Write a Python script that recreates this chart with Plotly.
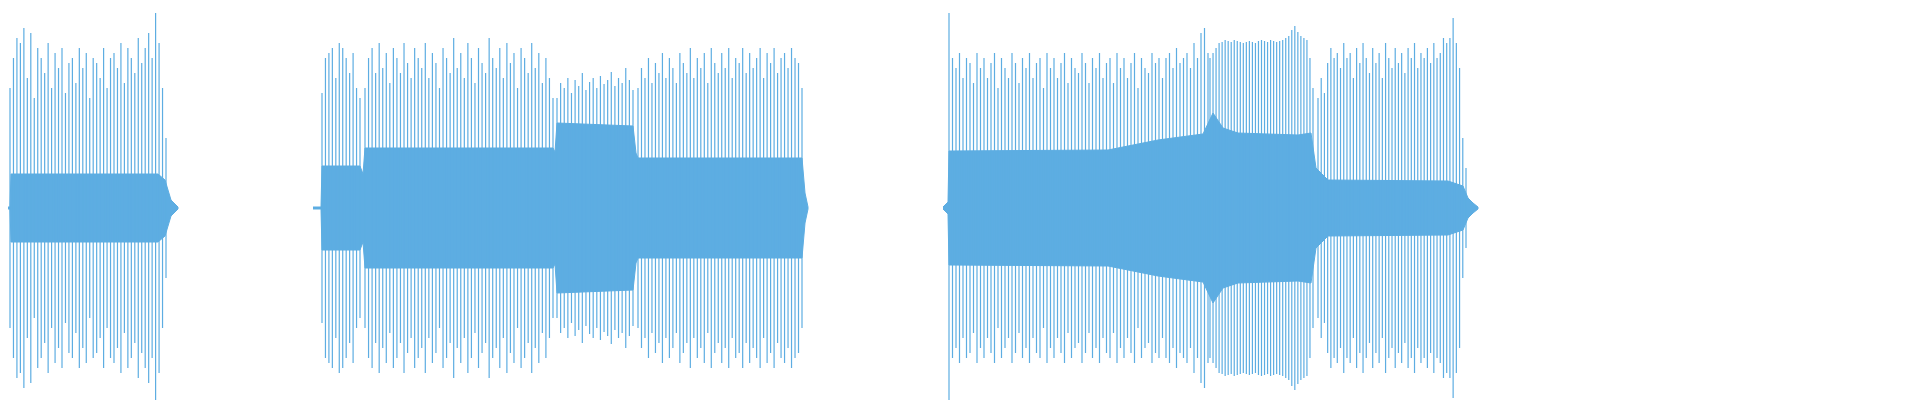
import plotly.graph_objects as go

COLOR = "#5DADE2"

# waveform segments: (start, end) on the time axis, core envelope, spike peaks
seg_bounds = [(2, 158), (314, 352), (357, 545), (549, 625), (630, 794),
              (941, 1200), (1202, 1305), (1310, 1458)]

spikes_a = [120, 150, 170, 165, 180, 130, 175, 110, 160, 150, 135, 165, 120, 155, 140,
            160, 115, 145, 150, 125, 160, 140, 155, 110, 150, 145, 130, 160, 120, 150,
            155, 140, 165, 125, 160, 150, 135, 170, 145, 160, 175, 150, 195, 165, 120, 70]
spikes_b1 = [115, 150, 155, 160, 130, 165, 160, 150, 135, 155, 120, 110]
spikes_b2 = [120, 150, 160, 135, 165, 140, 155, 125, 160, 150, 135, 165, 145, 130, 160,
             150, 140, 165, 130, 155, 145, 120, 160, 150, 135, 170, 140, 155, 130, 165,
             150, 125, 160, 145, 135, 170, 150, 140, 160, 130, 165, 145, 155, 120, 160,
             150, 135, 165, 140, 155, 125, 150, 130, 110]
spikes_b3 = [110, 125, 120, 130, 115, 128, 122, 135, 118, 126, 130, 120, 132, 124, 128,
             136, 122, 130, 125, 140, 128, 118]
spikes_b4 = [120, 140, 130, 150, 125, 145, 135, 155, 130, 150, 140, 125, 155, 145, 135,
             160, 130, 150, 140, 155, 125, 160, 145, 135, 155, 140, 160, 130, 150, 145,
             160, 135, 155, 140, 150, 160, 130, 155, 145, 160, 135, 150, 155, 140, 160,
             150, 145, 120]
spikes_c1 = [195, 150, 140, 155, 130, 150, 145, 125, 155, 140, 150, 130, 145, 155, 120,
             150, 140, 130, 155, 145, 125, 150, 140, 155, 130, 145, 150, 120, 155, 140,
             150, 130, 145, 155, 125, 150, 140, 135, 155, 145, 125, 150, 140, 155, 130,
             145, 150, 125, 155, 140, 150, 130, 145, 155, 120, 150, 140, 135, 155, 145,
             150, 130, 150, 155, 140, 160, 145, 150, 155, 140, 165, 150, 175, 180, 155]
spikes_c2 = [150, 155, 160, 165, 166, 168, 167, 166, 168, 167, 166, 165, 166, 167, 166,
             165, 167, 168, 167, 166, 168, 167, 166, 167, 168, 170, 172, 178, 182, 176,
             172, 170, 168, 150, 120]
spikes_c3 = [110, 130, 115, 145, 160, 150, 155, 140, 165, 150, 155, 130, 160, 145, 165,
             150, 135, 160, 145, 155, 130, 165, 150, 140, 160, 145, 155, 135, 160, 150,
             165, 140, 155, 150, 160, 145, 165, 150, 155, 170, 165, 170, 190, 165, 140,
             70, 40]
spike_lists = [spikes_a, spikes_b1, spikes_b2, spikes_b3, spikes_b4,
               spikes_c1, spikes_c2, spikes_c3]

# core (dense) envelope: x positions and half amplitudes
core_x = [0, 2, 3, 150, 157, 160, 163, 167, 170, None,
          305, 313, 314, 352, 355, 357, 545, 547, 549, 625, 628, 630, 794, 797, 800, None,
          935, 940, 941, 1100, 1150, 1195, 1205, 1215, 1230, 1290, 1303, 1308, 1320,
          1440, 1455, 1460, 1465, 1470]
core_a = [1, 1, 34, 34, 28, 18, 8, 4, 1, None,
          1, 1, 42, 42, 34, 60, 60, 56, 85, 82, 55, 50, 50, 15, 1, None,
          1, 6, 57, 58, 68, 74, 95, 80, 75, 73, 75, 40, 28,
          27, 22, 10, 5, 1]

fig = go.Figure()

# core band, one filled polygon per group
groups, cur = [], []
for x, a in zip(core_x, core_a):
    if x is None:
        groups.append(cur)
        cur = []
    else:
        cur.append((x, a))
groups.append(cur)
for g in groups:
    xs = [p[0] for p in g] + [p[0] for p in g[::-1]]
    ys = [p[1] for p in g] + [-p[1] for p in g[::-1]]
    fig.add_trace(go.Scatter(x=xs, y=ys, fill="toself", fillcolor=COLOR,
                             mode="lines", line=dict(color=COLOR, width=1),
                             hoverinfo="skip"))

# spikes as vertical strokes
sx, sy = [], []
for (x0, x1), peaks in zip(seg_bounds, spike_lists):
    n = len(peaks)
    for i, p in enumerate(peaks):
        x = x0 + (x1 - x0) * i / (n - 1)
        sx += [x, x, None]
        sy += [p, -p, None]
fig.add_trace(go.Scatter(x=sx, y=sy, mode="lines",
                         line=dict(color=COLOR, width=1.2), hoverinfo="skip"))

fig.update_layout(
    width=1920, height=400, showlegend=False,
    margin=dict(l=0, r=0, t=0, b=0),
    plot_bgcolor="white", paper_bgcolor="white",
)
fig.update_xaxes(range=[0, 1920], visible=False)
fig.update_yaxes(range=[-200, 200], visible=False)

fig.write_html("out.html")
